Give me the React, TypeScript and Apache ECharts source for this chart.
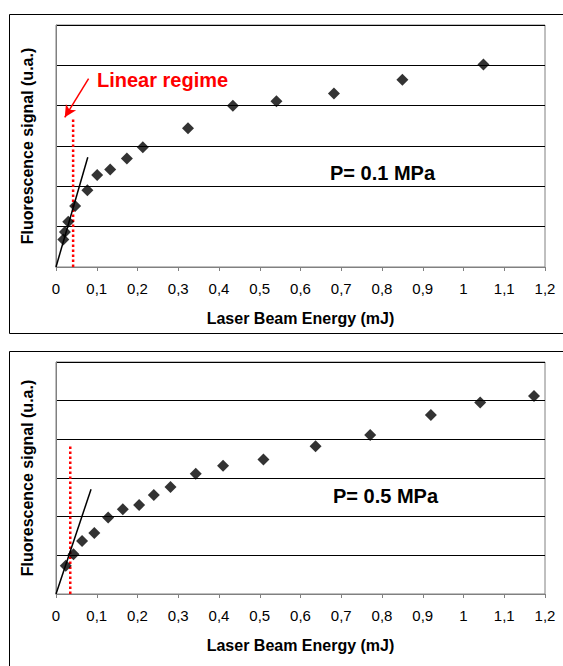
import React, { useEffect, useRef } from "react";
import * as echarts from "echarts";

// Top panel (P = 0.1 MPa)
const topX = [0.018, 0.022, 0.03, 0.047, 0.077, 0.101, 0.133, 0.174, 0.213, 0.324, 0.434, 0.541, 0.682, 0.85, 1.049];
const topY = [0.68, 0.87, 1.12, 1.51, 1.9, 2.28, 2.42, 2.69, 2.97, 3.44, 4.0, 4.11, 4.3, 4.64, 5.02];
const topFit = [[0, 0], [0.078, 2.72]];
const topLimit = [[0.042, 0], [0.042, 3.66]];
const topArrow = [[0.08, 4.67], [0.0215, 3.71]];

// Bottom panel (P = 0.5 MPa)
const botX = [0.024, 0.043, 0.064, 0.094, 0.128, 0.164, 0.204, 0.24, 0.281, 0.343, 0.41, 0.509, 0.637, 0.771, 0.92, 1.041, 1.173];
const botY = [0.73, 1.03, 1.37, 1.58, 1.98, 2.19, 2.3, 2.56, 2.77, 3.11, 3.32, 3.48, 3.82, 4.11, 4.63, 4.95, 5.12];
const botFit = [[0, 0], [0.086, 2.71]];
const botLimit = [[0.035, 0], [0.035, 3.85]];

const xMin = 0;
const xMax = 1.2;
const xStep = 0.1;
const yMin = 0;
const yMax = 6;
const yStep = 1;

const xName = "Laser Beam Energy (mJ)";
const yName = "Fluorescence signal (u.a.)";
const topLabel = "P= 0.1 MPa";
const botLabel = "P= 0.5 MPa";
const regimeLabel = "Linear regime";

const FONT = "'Liberation Sans', Arial, sans-serif";
const GREY = "#808080";

function fmt(v: number) {
  return String(parseFloat(v.toFixed(1))).replace(".", ",");
}

function makeX(gridIndex: number) {
  return {
    type: "value",
    gridIndex,
    min: xMin,
    max: xMax,
    interval: xStep,
    name: xName,
    nameLocation: "middle",
    nameGap: 43,
    nameTextStyle: { fontFamily: FONT, fontSize: 16, fontWeight: "bold", color: "#000" },
    axisLine: { show: true, lineStyle: { color: GREY, width: 1 } },
    axisTick: { show: true, length: 4, lineStyle: { color: GREY } },
    axisLabel: { fontFamily: FONT, fontSize: 15, color: "#000", margin: 14, formatter: fmt },
    splitLine: { show: false },
  };
}

function makeY(gridIndex: number) {
  return {
    type: "value",
    gridIndex,
    min: yMin,
    max: yMax,
    interval: yStep,
    name: yName,
    nameLocation: "middle",
    nameGap: 21,
    nameTextStyle: { fontFamily: FONT, fontSize: 16, fontWeight: "bold", color: "#000" },
    axisLine: { show: true, lineStyle: { color: GREY, width: 1 } },
    axisTick: { show: false },
    axisLabel: { show: false },
    splitLine: { show: true, lineStyle: { color: "#000", width: 1 } },
  };
}

function panelSeries(idx: number, xs: number[], ys: number[], fit: number[][], limit: number[][], arrow?: number[][]) {
  const scatter: any = {
    type: "scatter",
    xAxisIndex: idx,
    yAxisIndex: idx,
    data: xs.map((x, i) => [x, ys[i]]),
    symbol: "diamond",
    symbolSize: 12,
    itemStyle: { color: "#000" },
    z: 4,
  };
  if (arrow) {
    scatter.markLine = {
      silent: true,
      symbol: ["none", "arrow"],
      symbolSize: [9, 12],
      label: { show: false },
      lineStyle: { color: "#ff0000", width: 1.5, type: "solid" },
      data: [[{ coord: arrow[0] }, { coord: arrow[1] }]],
    };
  }
  return [
    {
      type: "line",
      xAxisIndex: idx,
      yAxisIndex: idx,
      data: limit,
      symbol: "none",
      lineStyle: { color: "#ff0000", width: 2.5, type: [2.5, 2.5] },
      z: 3,
    },
    {
      type: "line",
      xAxisIndex: idx,
      yAxisIndex: idx,
      data: fit,
      symbol: "none",
      lineStyle: { color: "#000", width: 1.5 },
      z: 3,
    },
    scatter,
  ];
}

export default function App() {
  const ref = useRef<HTMLDivElement>(null);
  useEffect(() => {
    if (!ref.current) return;
    const chart = echarts.init(ref.current, null, { renderer: "svg" });
    const series: any[] = [
      ...panelSeries(0, topX, topY, topFit, topLimit, topArrow),
      ...panelSeries(1, botX, botY, botFit, botLimit),
    ];
    chart.setOption({
      animation: false,
      backgroundColor: "#fff",
      grid: [
        { left: 56, top: 25, width: 489, height: 242, show: true, borderColor: GREY, borderWidth: 1, backgroundColor: "transparent" },
        { left: 56, top: 362, width: 489, height: 232, show: true, borderColor: GREY, borderWidth: 1, backgroundColor: "transparent" },
      ],
      xAxis: [makeX(0), makeX(1)],
      yAxis: [makeY(0), makeY(1)],
      series,
      graphic: [
        { type: "rect", shape: { x: 9.5, y: 14.5, width: 600, height: 319 }, style: { fill: "none", stroke: "#000", lineWidth: 1 }, silent: true },
        { type: "rect", shape: { x: 9.5, y: 351.5, width: 600, height: 400 }, style: { fill: "none", stroke: "#000", lineWidth: 1 }, silent: true },
        { type: "text", x: 97, y: 80, style: { text: regimeLabel, fill: "#ff0000", font: `bold 20px ${FONT}`, verticalAlign: "middle" }, z: 10 },
        { type: "text", x: 330, y: 173, style: { text: topLabel, fill: "#000", font: `bold 20px ${FONT}`, verticalAlign: "middle" }, z: 10 },
        { type: "text", x: 333, y: 496, style: { text: botLabel, fill: "#000", font: `bold 20px ${FONT}`, verticalAlign: "middle" }, z: 10 },
      ],
    });
    return () => chart.dispose();
  }, []);
  return <div ref={ref} style={{ position: "fixed", left: 0, top: 0, width: 563, height: 666, background: "#fff" }} />;
}
